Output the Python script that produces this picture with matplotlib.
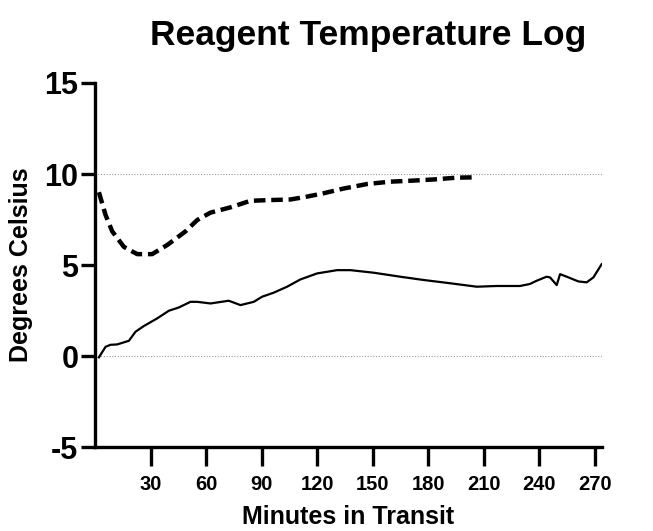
import matplotlib
matplotlib.use("Agg")
import matplotlib.pyplot as plt

plt.rcParams['font.family'] = ['Liberation Sans', 'DejaVu Sans']
plt.rcParams['font.weight'] = 'bold'
plt.rcParams['axes.unicode_minus'] = False

# dashed series (minutes, degrees C)
dashed_t = [2.1, 5.7, 9.3, 15.6, 22.8, 30.9, 39, 48.9, 55.2, 62.4, 73.2, 84, 94.7,
            105.5, 114.6, 123.4, 134.2, 147, 159.5, 170.3, 182.8, 195.5, 206]
dashed_c = [9.0, 7.75, 6.85, 6.0, 5.6, 5.6, 6.1, 6.85, 7.47, 7.88, 8.17, 8.53, 8.57,
            8.6, 8.76, 8.94, 9.2, 9.45, 9.58, 9.63, 9.7, 9.8, 9.82]

# solid series
solid_t = [2.1, 5.7, 8.4, 12, 18.3, 21.9, 26.4, 33.6, 39.9, 45.3, 51.6, 55.2, 62.4,
           72.3, 78.6, 85.8, 90.3, 96.5, 103.8, 111, 120, 130.8, 138, 150.5, 164.9,
           177.5, 191.9, 206.3, 217, 229.7, 235, 238.7, 244, 245.9, 249.5, 251.3,
           254.9, 261.2, 265.7, 269.3, 273.8]
solid_c = [-0.07, 0.51, 0.62, 0.64, 0.84, 1.34, 1.65, 2.07, 2.49, 2.67, 2.98, 2.98, 2.89,
           3.04, 2.8, 2.98, 3.26, 3.48, 3.81, 4.21, 4.54, 4.72, 4.72, 4.58, 4.36,
           4.18, 4.0, 3.81, 3.85, 3.85, 3.96, 4.14, 4.36, 4.32, 3.9, 4.5,
           4.36, 4.1, 4.05, 4.32, 5.05]

x_ticks = [30, 60, 90, 120, 150, 180, 210, 240, 270]
y_ticks = [-5, 0, 5, 10, 15]
grid_lines = [0, 10]

fig = plt.figure(figsize=(6.53, 5.31), dpi=100)
ax = fig.add_axes([0.1455, 0.158, 0.922 - 0.1455, 0.8437 - 0.158])

for g in grid_lines:
    ax.axhline(g, color='#999999', linestyle=(0, (1, 1.5)), linewidth=0.8, zorder=1)

ax.plot(dashed_t, dashed_c, color='black', linewidth=3.2,
        linestyle=(0, (2.6, 1.3)), zorder=3)
ax.plot(solid_t, solid_c, color='black', linewidth=1.6, zorder=3)

ax.set_xlim(0, 274)
ax.set_ylim(-5, 15)
ax.set_xticks(x_ticks)
ax.set_yticks(y_ticks)

for side in ['top', 'right']:
    ax.spines[side].set_visible(False)
for side in ['left', 'bottom']:
    ax.spines[side].set_linewidth(2.4)

ax.tick_params(axis='x', length=14, width=2.4, labelsize=14.5, pad=6)
ax.tick_params(axis='y', length=10, width=2.4, labelsize=22, pad=2)
for lab in ax.get_xticklabels() + ax.get_yticklabels():
    lab.set_fontweight('bold')

ax.set_xlabel("Minutes in Transit", fontsize=18, fontweight='bold', labelpad=8)
ax.set_ylabel("Degrees Celsius", fontsize=18, fontweight='bold', labelpad=8)
fig.suptitle("Reagent Temperature Log", fontsize=25.5, fontweight='bold', x=0.563, y=0.965)

plt.savefig("out.png", dpi=100)
